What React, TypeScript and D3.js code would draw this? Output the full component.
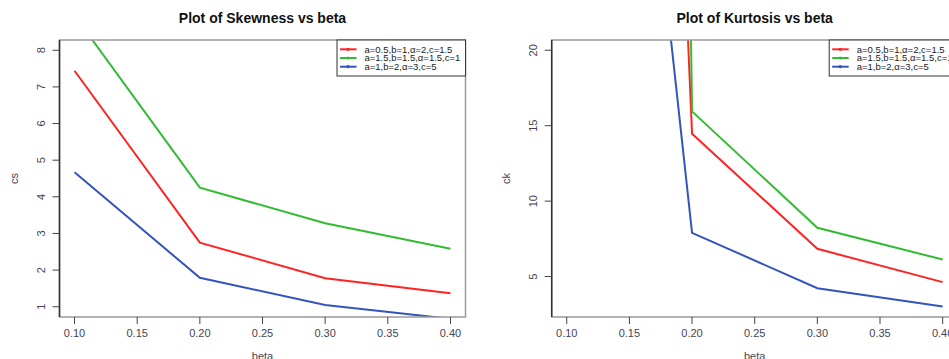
import React, { useEffect, useRef } from 'react';
import * as d3 from 'd3';

// beta values shared by both panels
const betas = [0.1, 0.2, 0.3, 0.4];
const xTicks = [0.1, 0.15, 0.2, 0.25, 0.3, 0.35, 0.4];

const seriesLabels = [
  'a=0.5,b=1,\u03b1=2,c=1.5',
  'a=1.5,b=1.5,\u03b1=1.5,c=1',
  'a=1,b=2,\u03b1=3,c=5',
];
const seriesColors = ['#ff2424', '#33bb33', '#3355bb'];

// skewness (cs)
const skewRed = [7.44, 2.75, 1.78, 1.37];
const skewGreen = [8.95, 4.25, 3.28, 2.58];
const skewBlue = [4.67, 1.79, 1.05, 0.67];
const skewTicks = [1, 2, 3, 4, 5, 6, 7, 8];

// kurtosis (ck)
const kurtRed = [208, 14.47, 6.84, 4.63];
const kurtGreen = [600, 15.95, 8.23, 6.13];
const kurtBlue = [84, 7.9, 4.23, 3.01];
const kurtTicks = [5, 10, 15, 20];

const W = 949;
const H = 359;

const pad = (lo, hi) => {
  const d = (hi - lo) * 0.04;
  return [lo - d, hi + d];
};

const drawPanel = (svg, opts) => {
  const { x0, x1, y0, y1, title, ylab, ylim, yTicks, series, id } = opts;
  const g = svg.append('g');

  const x = d3.scaleLinear().domain(pad(0.1, 0.4)).range([x0, x1]);
  const y = d3.scaleLinear().domain(pad(ylim[0], ylim[1])).range([y1, y0]);

  g.append('clipPath')
    .attr('id', id)
    .append('rect')
    .attr('x', x0)
    .attr('y', y0)
    .attr('width', x1 - x0)
    .attr('height', y1 - y0);

  const line = d3.line()
    .x(d => x(d[0]))
    .y(d => y(d[1]));

  series.forEach((vals, i) => {
    g.append('path')
      .datum(betas.map((b, j) => [b, vals[j]]))
      .attr('clip-path', `url(#${id})`)
      .attr('fill', 'none')
      .attr('stroke', seriesColors[i])
      .attr('stroke-width', 2)
      .attr('d', line);
  });

  // frame
  g.append('rect')
    .attr('x', x0)
    .attr('y', y0)
    .attr('width', x1 - x0)
    .attr('height', y1 - y0)
    .attr('fill', 'none')
    .attr('stroke', '#999')
    .attr('stroke-width', 1.5);
  g.append('line')
    .attr('x1', x0).attr('x2', x0)
    .attr('y1', y0).attr('y2', y1)
    .attr('stroke', '#333')
    .attr('stroke-width', 1.5);

  // x axis
  xTicks.forEach(t => {
    g.append('line')
      .attr('x1', x(t)).attr('x2', x(t))
      .attr('y1', y1).attr('y2', y1 + 7)
      .attr('stroke', '#444');
    g.append('text')
      .attr('x', x(t))
      .attr('y', y1 + 20)
      .attr('text-anchor', 'middle')
      .attr('font-size', 11)
      .attr('fill', '#445')
      .text(d3.format('.2f')(t));
  });

  // y axis
  yTicks.forEach(t => {
    g.append('line')
      .attr('x1', x0 - 7).attr('x2', x0)
      .attr('y1', y(t)).attr('y2', y(t))
      .attr('stroke', '#444');
    g.append('text')
      .attr('transform', `translate(${x0 - 15},${y(t)}) rotate(-90)`)
      .attr('text-anchor', 'middle')
      .attr('font-size', 11)
      .attr('fill', '#445')
      .text(t);
  });

  const cx = (x0 + x1) / 2;
  g.append('text')
    .attr('x', cx)
    .attr('y', 22.5)
    .attr('text-anchor', 'middle')
    .attr('font-size', 14)
    .attr('font-weight', 'bold')
    .attr('fill', '#111')
    .text(title);

  g.append('text')
    .attr('x', cx)
    .attr('y', 360)
    .attr('text-anchor', 'middle')
    .attr('font-size', 11)
    .attr('fill', '#445')
    .text('beta');

  g.append('text')
    .attr('transform', `translate(${x0 - 42},${(y0 + y1) / 2}) rotate(-90)`)
    .attr('text-anchor', 'middle')
    .attr('font-size', 11)
    .attr('fill', '#445')
    .text(ylab);

  // legend, top right
  const lx = x1 - 128.5;
  const leg = g.append('g');
  leg.append('rect')
    .attr('x', lx)
    .attr('y', y0)
    .attr('width', 128.5)
    .attr('height', 36)
    .attr('fill', '#fff')
    .attr('stroke', '#333')
    .attr('stroke-width', 1);
  seriesLabels.forEach((lab, i) => {
    const ry = y0 + 9.3 + i * 8.7;
    leg.append('line')
      .attr('x1', lx + 3).attr('x2', lx + 19.5)
      .attr('y1', ry).attr('y2', ry)
      .attr('stroke', seriesColors[i])
      .attr('stroke-width', 2);
    leg.append('circle')
      .attr('cx', lx + 11).attr('cy', ry)
      .attr('r', 1.6)
      .attr('fill', seriesColors[i]);
    leg.append('text')
      .attr('x', lx + 27.5)
      .attr('y', ry + 3.3)
      .attr('font-size', 9.5)
      .attr('fill', '#222')
      .text(lab);
  });
};

const App = () => {
  const svgRef = useRef(null);

  useEffect(() => {
    const svg = d3.select(svgRef.current);
    svg.selectAll('*').remove();

    drawPanel(svg, {
      id: 'clipSkew',
      x0: 59.5, x1: 465.5, y0: 40, y1: 317,
      title: 'Plot of Skewness vs beta',
      ylab: 'cs',
      ylim: [1, 8],
      yTicks: skewTicks,
      series: [skewRed, skewGreen, skewBlue],
    });

    drawPanel(svg, {
      id: 'clipKurt',
      x0: 551.7, x1: 957.7, y0: 40, y1: 317,
      title: 'Plot of Kurtosis vs beta',
      ylab: 'ck',
      ylim: [3, 20],
      yTicks: kurtTicks,
      series: [kurtRed, kurtGreen, kurtBlue],
    });
  }, []);

  return (
    <svg
      ref={svgRef}
      width={W}
      height={H}
      style={{ position: 'absolute', left: 0, top: 0, background: '#fff', fontFamily: '"Liberation Sans", Arial, sans-serif' }}
    />
  );
};

export default App;
